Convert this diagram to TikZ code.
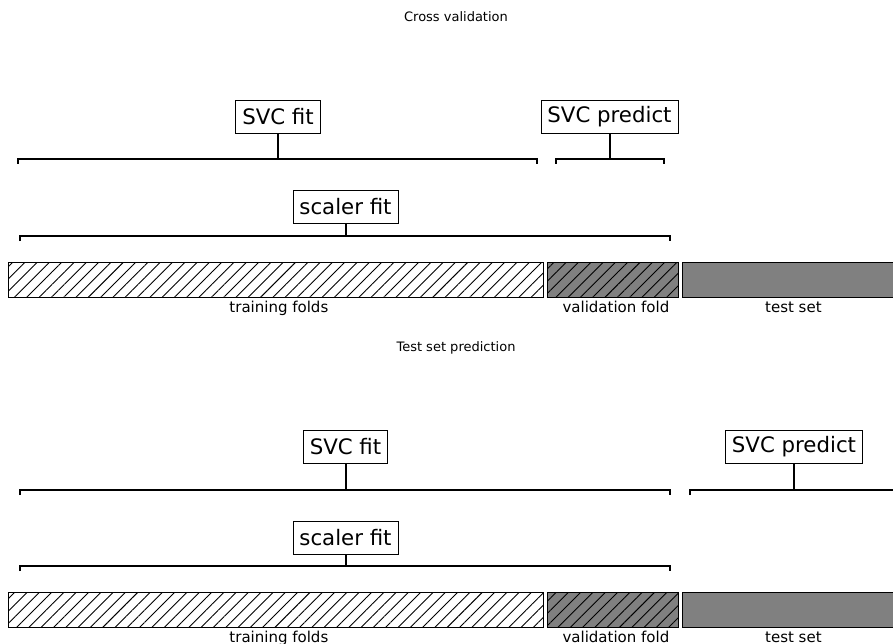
\documentclass[tikz,border=0pt]{standalone}
\usepackage{fontspec}
\setmainfont{DejaVu Sans}
\usetikzlibrary{patterns.meta}
\definecolor{mgray}{RGB}{128,128,128}
\tikzset{
  box/.style={draw, line width=0.8pt, fill=white, inner xsep=6.5pt, inner ysep=0pt,
    minimum height=33pt, font=\fontsize{21.3}{21.3}\selectfont},
  brace/.style={line width=2pt},
  lbl/.style={font=\fontsize{15}{15}\selectfont, anchor=base, inner sep=0pt},
  ttl/.style={font=\fontsize{13}{13}\selectfont, inner sep=0pt},
  hatch/.style={pattern={Lines[angle=45,distance=8.7pt,line width=0.9pt]}, pattern color=black},
  band/.style={draw, line width=0.8pt, inner sep=0pt, minimum height=35pt, anchor=west},
  plainband/.style={band, fill=white, postaction={hatch}},
  valband/.style={band, fill=mgray, postaction={hatch}},
  testband/.style={band, fill=mgray}
}
\begin{document}
\begin{tikzpicture}[x=1pt,y=-1pt]
\useasboundingbox (0,0) rectangle (893,644);
\clip (0,0) rectangle (893,644);

% ---------- Cross validation ----------
\node[ttl] (t1) at (456,17) {Cross validation};

\node[box] (fit1) at (278,116.5) {SVC fit};
\node[box] (pred1) at (609.5,116.5) {SVC predict};
\node[box] (sc1) at (345.5,206.5) {scaler fit};

\coordinate (b1l) at (18,159);
\coordinate (b1r) at (537,159);
\coordinate (b2l) at (556,159);
\coordinate (b2r) at (664,159);
\coordinate (b3l) at (20,236);
\coordinate (b3r) at (670,236);

\draw[brace] ([yshift=-5pt]b1l) -- (b1l) -- (b1r) -- ([yshift=-5pt]b1r);
\draw[brace] ([yshift=-5pt]b2l) -- (b2l) -- (b2r) -- ([yshift=-5pt]b2r);
\draw[brace] ([yshift=-5pt]b3l) -- (b3l) -- (b3r) -- ([yshift=-5pt]b3r);
\draw[brace] (fit1.south) -- (fit1.south |- b1l);
\draw[brace] (pred1.south) -- (pred1.south |- b2l);
\draw[brace] (sc1.south) -- (sc1.south |- b3l);

\node[plainband, minimum width=535pt] (tr1) at (8,279.5) {};
\node[valband, minimum width=131pt] (va1) at (547,279.5) {};
\node[testband, minimum width=222pt] (te1) at (682,279.5) {};

\node[lbl] (ltr1) at ([xshift=3pt,yshift=-15pt]tr1.south) {training folds};
\node[lbl] (lva1) at ([xshift=3pt,yshift=-15pt]va1.south) {validation fold};
\node[lbl] (lte1) at ([xshift=0pt,yshift=-15pt]te1.south) {test set};

% ---------- Test set prediction ----------
\node[ttl] (t2) at (456,348) {Test set prediction};

\node[box] (fit2) at (345.5,447) {SVC fit};
\node[box] (pred2) at (794,447) {SVC predict};
\node[box] (sc2) at (345.5,538) {scaler fit};

\coordinate (c1l) at (20,490);
\coordinate (c1r) at (670,490);
\coordinate (c2l) at (690,490);
\coordinate (c2r) at (905,490);
\coordinate (c3l) at (20,566);
\coordinate (c3r) at (670,566);

\draw[brace] ([yshift=-5pt]c1l) -- (c1l) -- (c1r) -- ([yshift=-5pt]c1r);
\draw[brace] ([yshift=-5pt]c2l) -- (c2l) -- (c2r) -- ([yshift=-5pt]c2r);
\draw[brace] ([yshift=-5pt]c3l) -- (c3l) -- (c3r) -- ([yshift=-5pt]c3r);
\draw[brace] (fit2.south) -- (fit2.south |- c1l);
\draw[brace] (pred2.south) -- (pred2.south |- c2l);
\draw[brace] (sc2.south) -- (sc2.south |- c3l);

\node[plainband, minimum width=535pt] (tr2) at (8,609.5) {};
\node[valband, minimum width=131pt] (va2) at (547,609.5) {};
\node[testband, minimum width=222pt] (te2) at (682,609.5) {};

\node[lbl] (ltr2) at ([xshift=3pt,yshift=-15pt]tr2.south) {training folds};
\node[lbl] (lva2) at ([xshift=3pt,yshift=-15pt]va2.south) {validation fold};
\node[lbl] (lte2) at ([xshift=0pt,yshift=-15pt]te2.south) {test set};
\end{tikzpicture}
\end{document}
